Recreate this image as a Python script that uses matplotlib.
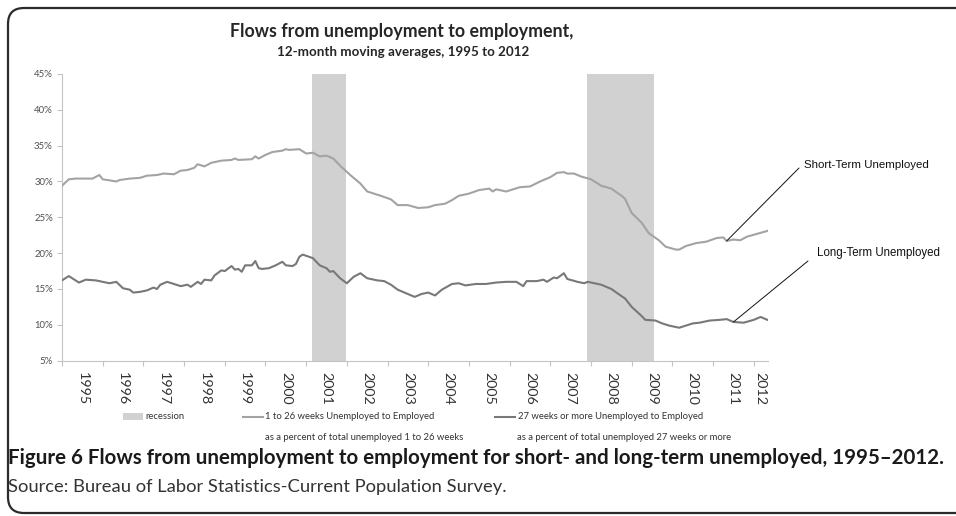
import matplotlib
matplotlib.use("Agg")
import matplotlib.pyplot as plt
from matplotlib.lines import Line2D
from matplotlib.patches import Rectangle, FancyBboxPatch
from matplotlib.ticker import FuncFormatter

# ---------------- data (months after Jan 1995, percent) ----------------
years = [str(y) for y in range(1995, 2013)]

st_months = [0, 2, 4, 9, 11, 12, 16, 17, 20, 23, 25, 28, 30, 33, 35, 37, 39, 40, 42, 44,
             47, 50, 51, 52, 56, 57, 58, 60, 62, 65, 66, 67, 70, 72, 74, 76, 78, 80, 82, 85,
             88, 90, 94, 97, 99, 102, 105, 108, 110, 113, 115, 117, 120, 123, 126, 127, 128,
             131, 135, 138, 141, 144, 146, 148, 149, 151, 153, 156, 159, 162, 165, 166, 167,
             168, 171, 173, 176, 178, 181, 182, 184, 187, 190, 193, 195, 196, 198, 200, 202,
             205, 208]
st_values = [29.4, 30.3, 30.4, 30.4, 30.9, 30.3, 30.0, 30.2, 30.4, 30.5, 30.8, 30.9, 31.1,
             31.0, 31.5, 31.6, 31.9, 32.4, 32.1, 32.6, 32.9, 33.0, 33.2, 33.0, 33.1, 33.5,
             33.2, 33.7, 34.1, 34.3, 34.5, 34.4, 34.5, 33.9, 34.0, 33.5, 33.6, 33.2, 32.2,
             30.9, 29.7, 28.6, 28.0, 27.5, 26.7, 26.7, 26.3, 26.4, 26.7, 26.9, 27.4, 28.0,
             28.3, 28.8, 29.0, 28.6, 28.9, 28.6, 29.2, 29.3, 30.0, 30.6, 31.2, 31.3, 31.1,
             31.1, 30.7, 30.3, 29.4, 29.0, 28.0, 27.6, 26.6, 25.6, 24.2, 22.8, 21.8, 20.9,
             20.5, 20.5, 21.0, 21.4, 21.6, 22.1, 22.2, 21.7, 21.9, 21.8, 22.3, 22.7, 23.1]

lt_months = [0, 2, 5, 7, 10, 14, 16, 18, 20, 21, 23, 25, 27, 28, 29, 31, 33, 35, 37, 38,
             40, 41, 42, 44, 45, 47, 48, 50, 51, 52, 53, 54, 56, 57, 58, 59, 61, 63, 65, 66,
             68, 69, 70, 71, 74, 76, 78, 79, 80, 82, 84, 86, 88, 90, 93, 95, 97, 99, 102,
             104, 106, 108, 109, 110, 112, 115, 117, 119, 122, 125, 128, 131, 134, 136, 137,
             140, 142, 143, 145, 146, 148, 149, 152, 154, 155, 157, 159, 162, 165, 166, 167,
             168, 171, 172, 175, 177, 179, 182, 184, 186, 188, 191, 194, 196, 198, 201, 204,
             206, 208]
lt_values = [16.2, 16.8, 15.9, 16.3, 16.2, 15.8, 16.0, 15.1, 14.9, 14.5, 14.6, 14.8, 15.2,
             15.0, 15.6, 16.0, 15.7, 15.4, 15.6, 15.3, 16.0, 15.7, 16.3, 16.2, 16.9, 17.6,
             17.5, 18.2, 17.7, 17.8, 17.4, 18.3, 18.3, 18.9, 17.9, 17.8, 17.9, 18.3, 18.8,
             18.3, 18.2, 18.5, 19.5, 19.8, 19.3, 18.3, 17.9, 17.4, 17.5, 16.5, 15.8, 16.7,
             17.2, 16.5, 16.2, 16.1, 15.6, 14.9, 14.3, 13.9, 14.3, 14.5, 14.3, 14.1, 14.9,
             15.7, 15.8, 15.5, 15.7, 15.7, 15.9, 16.0, 16.0, 15.4, 16.1, 16.1, 16.3, 16.0,
             16.6, 16.5, 17.2, 16.4, 16.0, 15.8, 16.0, 15.8, 15.6, 15.0, 14.0, 13.7, 13.1,
             12.5, 11.2, 10.7, 10.6, 10.2, 9.9, 9.6, 9.9, 10.2, 10.3, 10.6, 10.7, 10.8, 10.4,
             10.3, 10.7, 11.1, 10.7]

recession_start = [73.7, 154.8]
recession_end = [83.7, 174.7]

short_label = "1 to 26 weeks Unemployed to Employed"
short_label2 = "as a percent of total unemployed 1 to 26 weeks"
long_label = "27 weeks or more Unemployed to Employed"
long_label2 = "as a percent of total unemployed 27 weeks or more"

# ---------------- figure ----------------
W, H = 956, 516
fig = plt.figure(figsize=(W / 100, H / 100), dpi=100)
renderer = fig.canvas.get_renderer()

FONT = ["Lato", "DejaVu Sans"]
ARIAL = ["Liberation Sans", "DejaVu Sans"]
C_ST = "#a3a3a3"
C_LT = "#787878"
C_REC = "#d1d1d1"


def fx(x):
    return x / W


def fy(y):
    return 1 - y / H


def fit(x, y, s, target_w, size=10, **kw):
    t = fig.text(fx(x), fy(y), s, fontsize=size, **kw)
    w = t.get_window_extent(renderer).width
    t.set_fontsize(size * target_w / w)
    return t


def fit_size(s, target_w, size=10, **kw):
    t = fig.text(0, 0, s, fontsize=size, **kw)
    w = t.get_window_extent(renderer).width
    t.remove()
    return size * target_w / w


# frame (rounded box, extends past right edge)
frame = FancyBboxPatch((0.08, 0.03), 12.0, 5.05,
                       boxstyle="round,pad=0,rounding_size=0.16",
                       transform=fig.dpi_scale_trans, fill=False,
                       edgecolor="#2b2b2b", linewidth=1.6, zorder=0)
fig.add_artist(frame)

# axes
x0, x1 = 62, 767.7
y_top, y_bot = 73.9, 360.7
ax = fig.add_axes([fx(x0), fy(y_bot), (x1 - x0) / W, (y_bot - y_top) / H])
ax.set_xlim(0, 208.1)
ax.set_ylim(5, 45)

for s, e in zip(recession_start, recession_end):
    ax.axvspan(s, e, color=C_REC, lw=0, zorder=1)

ax.plot(st_months, st_values, color=C_ST, lw=1.5, zorder=3, solid_joinstyle="round")
ax.plot(lt_months, lt_values, color=C_LT, lw=1.5, zorder=3, solid_joinstyle="round")

for side in ["top", "right"]:
    ax.spines[side].set_visible(False)
for side in ["left", "bottom"]:
    ax.spines[side].set_color("#c4c4c4")
    ax.spines[side].set_linewidth(0.8)

ytick_size = fit_size("45%", 19, family=FONT)
ax.set_yticks(range(5, 50, 5))
ax.yaxis.set_major_formatter(FuncFormatter(lambda v, p: f"{int(v)}%"))
ax.tick_params(axis="y", length=3.6, width=0.8, color="#c4c4c4", pad=3,
               labelsize=ytick_size, labelcolor="#505050")
for lab in ax.get_yticklabels():
    lab.set_family(FONT)

year_ticks = list(range(0, 205, 12))
ax.set_xticks(year_ticks)
ax.set_xticklabels([])
ax.tick_params(axis="x", which="major", length=3.5, width=0.8, color="#c4c4c4")
label_pos = [12 * i + 6 for i in range(len(years) - 1)] + [206.0]
xtick_size = fit_size("1995", 33, family=FONT)
ax.set_xticks(label_pos, minor=True)
ax.set_xticklabels(years, minor=True, rotation=270, ha="center", va="top",
                   family=FONT, fontsize=xtick_size, color="#333333")
ax.tick_params(axis="x", which="minor", length=0, pad=8.2)

# titles
t1 = fit(402, 32, "Flows from unemployment to employment,", 339, size=12,
         family=FONT, weight="bold", ha="center", va="center", color="#262626")
t2 = fit(403, 52, "12-month moving averages, 1995 to 2012", 250, size=9,
         family=FONT, weight="bold", ha="center", va="center", color="#262626")

# legend
leg_y = 416.5
fig.add_artist(Rectangle((fx(123), fy(leg_y + 3.5)), 20 / W, 7 / H,
                         transform=fig.transFigure, color=C_REC, lw=0))
leg_size = fit_size(short_label, 170, family=FONT)
fig.text(fx(145), fy(leg_y), "recession", fontsize=leg_size, family=FONT,
         va="center", ha="left", color="#333333")
fig.add_artist(Line2D([fx(243), fx(263)], [fy(leg_y), fy(leg_y)],
                      transform=fig.transFigure, color=C_ST, lw=1.5))
fig.text(fx(265), fy(leg_y), short_label, fontsize=leg_size, family=FONT,
         va="center", ha="left", color="#333333")
fig.text(fx(265), fy(437), short_label2, fontsize=leg_size, family=FONT,
         va="center", ha="left", color="#333333")
fig.add_artist(Line2D([fx(495), fx(515)], [fy(leg_y), fy(leg_y)],
                      transform=fig.transFigure, color=C_LT, lw=1.5))
fig.text(fx(518), fy(leg_y), long_label, fontsize=leg_size, family=FONT,
         va="center", ha="left", color="#333333")
fig.text(fx(517), fy(437), long_label2, fontsize=leg_size, family=FONT,
         va="center", ha="left", color="#333333")

# annotations
fit(804, 165, "Short-Term Unemployed", 125, size=8, family=ARIAL,
    ha="left", va="center", color="#111111")
fit(817, 253, "Long-Term Unemployed", 124, size=8, family=ARIAL,
    ha="left", va="center", color="#111111")
i_st = st_months.index(196)
i_lt = lt_months.index(198)
ax.annotate("", xy=(st_months[i_st], st_values[i_st]),
            xytext=(fx(799), fy(168)), textcoords="figure fraction",
            arrowprops=dict(arrowstyle="-", color="#111111", lw=0.7,
                            shrinkA=0, shrinkB=0), annotation_clip=False)
ax.annotate("", xy=(lt_months[i_lt], lt_values[i_lt]),
            xytext=(fx(808), fy(261)), textcoords="figure fraction",
            arrowprops=dict(arrowstyle="-", color="#111111", lw=0.7,
                            shrinkA=0, shrinkB=0), annotation_clip=False)

# caption
fit(8, 458, "Figure 6 Flows from unemployment to employment for short- and long-term unemployed, 1995\u20132012.",
    944, size=14, family=FONT, weight="bold", ha="left", va="center", color="#1a1a1a")
fit(8, 487, "Source: Bureau of Labor Statistics-Current Population Survey.", 496, size=12,
    family=FONT, ha="left", va="center", color="#333333")

fig.savefig("out.png", dpi=100)
